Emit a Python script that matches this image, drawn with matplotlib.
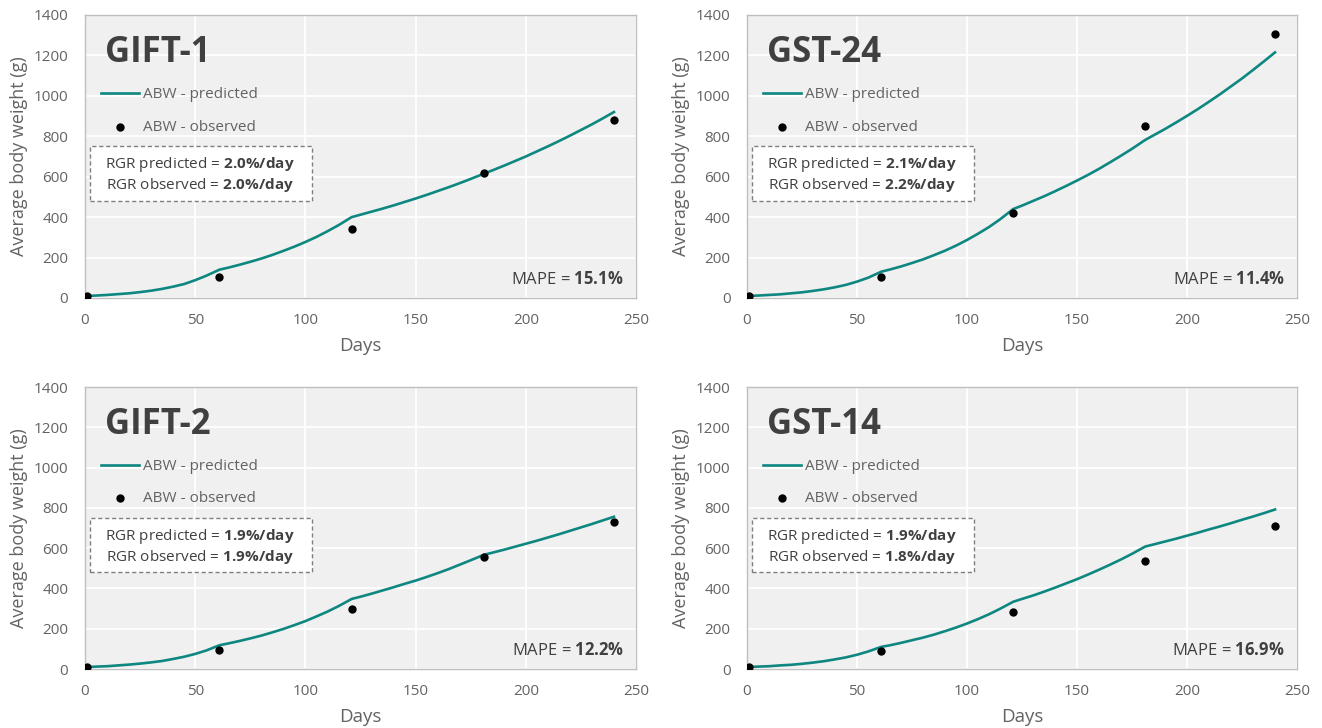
import matplotlib.pyplot as plt
from matplotlib.patches import Rectangle

plt.rcParams['font.family'] = ['Open Sans', 'DejaVu Sans']
plt.rcParams['mathtext.fontset'] = 'custom'
plt.rcParams['mathtext.rm'] = 'Open Sans'
plt.rcParams['mathtext.bf'] = 'Open Sans:bold'

# ---------------- data ----------------
strains = ['GIFT-1', 'GST-24', 'GIFT-2', 'GST-14']

days_pred = [1, 5, 10, 15, 20, 25, 30, 35, 40, 45, 50, 55, 61,
             65, 70, 75, 80, 85, 90, 95, 100, 105, 110, 115, 121,
             125, 130, 135, 140, 145, 150, 155, 160, 165, 170, 175, 181,
             185, 190, 195, 200, 205, 210, 215, 220, 225, 230, 235, 240]
days_obs = [1, 61, 121, 181, 240]

gift1_pred = [10, 12, 15, 19, 23, 29, 36, 45, 56, 69, 88, 110, 140,
              150, 164, 179, 195, 213, 233, 254, 277, 302, 330, 360, 400,
              412, 427, 442, 458, 475, 492, 510, 529, 548, 568, 589, 615,
              632, 654, 677, 700, 725, 750, 776, 803, 831, 859, 889, 920]
gst24_pred = [10, 12, 15, 18, 23, 28, 35, 43, 53, 65, 81, 100, 130,
              141, 156, 173, 191, 212, 234, 259, 287, 318, 351, 389, 440,
              457, 480, 503, 528, 554, 581, 609, 639, 671, 704, 738, 782,
              806, 836, 868, 901, 935, 971, 1008, 1047, 1086, 1128, 1171, 1215]
gift2_pred = [10, 12, 14, 18, 22, 27, 33, 40, 50, 61, 75, 92, 118,
              127, 139, 152, 166, 182, 199, 218, 238, 261, 285, 312, 348,
              359, 374, 390, 406, 423, 439, 457, 476, 496, 518, 540, 567,
              578, 592, 607, 622, 637, 653, 669, 686, 703, 720, 738, 756]
gst14_pred = [10, 12, 14, 18, 21, 26, 32, 39, 48, 58, 71, 87, 110,
              118, 130, 143, 156, 171, 188, 206, 226, 248, 272, 299, 334,
              348, 365, 384, 404, 425, 446, 469, 493, 518, 544, 572, 608,
              619, 633, 647, 662, 677, 693, 708, 724, 741, 757, 774, 792]

gift1_obs = [10, 105, 341, 620, 879]
gst24_obs = [10, 105, 419, 851, 1304]
gift2_obs = [10, 95, 296, 554, 730]
gst14_obs = [10, 90, 281, 534, 711]

rgr_pred = ['2.0', '2.1', '1.9', '1.9']
rgr_obs = ['2.0', '2.2', '1.9', '1.8']
mape = ['15.1', '11.4', '12.2', '16.9']

preds = [gift1_pred, gst24_pred, gift2_pred, gst14_pred]
obss = [gift1_obs, gst24_obs, gift2_obs, gst14_obs]

# ---------------- figure ----------------
teal = '#0e8781'
grey_txt = '#636363'
dark_txt = '#404040'

fig = plt.figure(figsize=(13.22, 7.28), dpi=100)
rects = [[0.0643, 0.5907, 0.4168, 0.3887],
         [0.5651, 0.5907, 0.4160, 0.3887],
         [0.0643, 0.0810, 0.4168, 0.3874],
         [0.5651, 0.0810, 0.4160, 0.3874]]

for i, rect in enumerate(rects):
    ax = fig.add_axes(rect)
    ax.set_facecolor('#f0f0f0')
    ax.set_xlim(0, 250)
    ax.set_ylim(0, 1400)
    ax.set_xticks(range(0, 251, 50))
    ax.set_yticks(range(0, 1401, 200))
    ax.grid(color='white', lw=1.3)
    ax.set_axisbelow(True)
    for s in ax.spines.values():
        s.set_color('#bfbfbf')
        s.set_linewidth(1.0)
    ax.tick_params(length=0, labelsize=11, labelcolor=grey_txt)
    ax.tick_params(axis='y', pad=12)
    ax.tick_params(axis='x', pad=11)
    ax.set_xlabel('Days', fontsize=13.5, color=grey_txt, labelpad=6)
    ax.set_ylabel('Average body weight (g)', fontsize=13, color=grey_txt, labelpad=4)

    ax.plot(days_pred, preds[i], color=teal, lw=1.9, label='ABW - predicted',
            solid_joinstyle='round', zorder=3)
    ax.scatter(days_obs, obss[i], s=36, color='black', label='ABW - observed',
               zorder=4, linewidths=0)

    ax.text(0.036, 0.834, strains[i], transform=ax.transAxes, fontsize=25,
            fontweight='bold', color=dark_txt, va='baseline', ha='left')

    leg = ax.legend(loc='upper left', bbox_to_anchor=(0.029, 0.745),
                    frameon=False, fontsize=11, handlelength=2.5,
                    handletextpad=0.25, labelspacing=1.15, borderpad=0,
                    borderaxespad=0)
    for t in leg.get_texts():
        t.set_color(grey_txt)

    # dashed RGR box
    ax.add_patch(Rectangle((0.009, 0.343), 0.403, 0.194, transform=ax.transAxes,
                           facecolor='white', edgecolor='#7f7f7f', lw=1.0,
                           ls=(0, (3, 2)), zorder=5))
    ax.text(0.209, 0.47, r'RGR predicted = $\mathbf{' + rgr_pred[i] + r'\%/day}$',
            transform=ax.transAxes, fontsize=11, color=dark_txt,
            ha='center', va='center', zorder=6)
    ax.text(0.209, 0.399, r'RGR observed = $\mathbf{' + rgr_obs[i] + r'\%/day}$',
            transform=ax.transAxes, fontsize=11, color=dark_txt,
            ha='center', va='center', zorder=6)

    ax.text(0.978, 0.064, r'MAPE = $\mathbf{' + mape[i] + r'\%}$',
            transform=ax.transAxes, fontsize=12, color=dark_txt,
            ha='right', va='center')

fig.savefig('out.png', dpi=100)
